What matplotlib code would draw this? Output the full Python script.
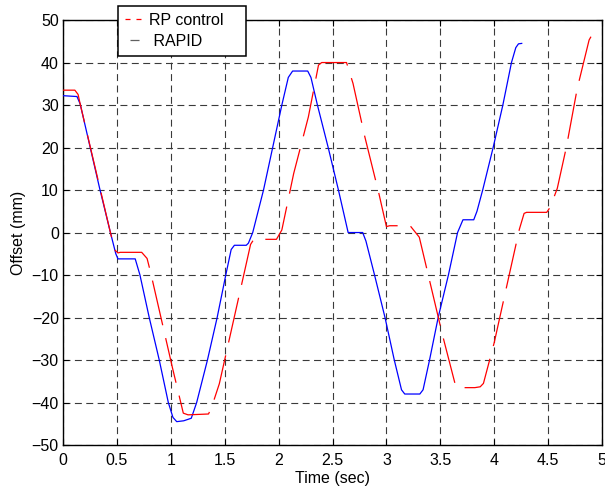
import matplotlib
matplotlib.use("Agg")
import matplotlib.pyplot as plt
from matplotlib.lines import Line2D

plt.rcParams['font.family'] = ['Liberation Sans', 'DejaVu Sans']
plt.rcParams['lines.scale_dashes'] = False

# RAPID (blue, solid)
rapid_t = [0, 0.13, 0.16, 0.34, 0.44, 0.49, 0.51, 0.67, 0.714, 0.80, 0.893, 0.977,
           1.02, 1.055, 1.12, 1.19, 1.24, 1.34, 1.43, 1.51, 1.56, 1.59, 1.70, 1.72,
           1.76, 1.86, 1.945, 2.03, 2.09, 2.13, 2.27, 2.30, 2.36, 2.46, 2.555, 2.645,
           2.78, 2.81, 2.89, 2.987, 3.073, 3.14, 3.17, 3.31, 3.34, 3.40, 3.48, 3.575,
           3.66, 3.71, 3.81, 3.84, 3.893, 3.99, 4.08, 4.16, 4.20, 4.225, 4.255]
rapid_y = [32.2, 32.0, 30.2, 10.4, 0, -5, -6.2, -6.2, -10, -20, -30, -40,
           -43.5, -44.5, -44.3, -43.7, -40, -30, -20, -10, -4, -3, -3, -2.5,
           0, 10, 20, 30, 36.5, 38, 38, 36.5, 30, 20, 10, 0,
           0, -2, -10, -20, -30, -37, -38, -38, -37, -30, -20, -10,
           0, 3, 3, 5, 10, 20, 30, 40, 43.5, 44.4, 44.5]

# RP control (red, dashed)
rp_t = [0, 0.11, 0.14, 0.16, 0.44, 0.48, 0.51, 0.53, 0.73, 0.78, 0.813, 1.017,
        1.116, 1.16, 1.35, 1.38, 1.45, 1.688, 1.74, 1.77, 1.98, 2.03, 2.14, 2.276,
        2.37, 2.40, 2.63, 2.69, 2.80, 2.93, 3.0, 3.03, 3.22, 3.305, 3.52, 3.645,
        3.68, 3.82, 3.87, 3.90, 4.0, 4.116, 4.233, 4.277, 4.30, 4.487, 4.52, 4.585,
        4.67, 4.77, 4.88, 4.90, 4.95]
rp_y = [33.5, 33.5, 32.5, 30.2, 0, -4.1, -4.8, -4.66, -4.66, -6.1, -9.4, -32,
        -42.5, -42.9, -42.7, -41, -35.6, -8.7, -2.8, -1.6, -1.6, 0.6, 13.9, 27.2,
        39.4, 40, 40, 35.1, 22.5, 9.2, 1.4, 1.6, 1.6, -1.1, -24.1, -36.4,
        -36.5, -36.5, -36.3, -35.5, -25.9, -12.6, 0.75, 4.5, 4.75, 4.75, 6.0, 10.4,
        20.2, 33.9, 45.3, 46.2, 46.2]

xticks = [0, 0.5, 1, 1.5, 2, 2.5, 3, 3.5, 4, 4.5, 5]
xticklabels = ['0', '0.5', '1', '1.5', '2', '2.5', '3', '3.5', '4', '4.5', '5']
yticks = list(range(-50, 51, 10))

fig = plt.figure(figsize=(6.05, 4.9), dpi=100)
ax = fig.add_axes([0.1041, 0.0918, 0.891, 0.8673])

ax.plot(rapid_t, rapid_y, color='#0000ff', lw=0.9, zorder=3)
ax.plot(rp_t, rp_y, color='#ff0000', lw=0.9, linestyle=(0, (33, 9.5)), zorder=4)

ax.set_xlim(0, 5)
ax.set_ylim(-50, 50)
ax.set_xticks(xticks)
ax.set_xticklabels(xticklabels)
ax.set_yticks(yticks)
ax.tick_params(direction='in', top=True, right=True, length=4, width=0.8,
               labelsize=11.5, colors='black')
ax.tick_params(axis='x', pad=6)
ax.tick_params(axis='y', pad=3)
ax.grid(True, color='#3a3a3a', linestyle=(0, (5, 3.2)), linewidth=0.8)
for s in ax.spines.values():
    s.set_linewidth(1.0)

ax.set_xlabel('Time (sec)', fontsize=11.5, labelpad=2)
ax.set_ylabel('Offset (mm)', fontsize=11.5, labelpad=4)

handles = [Line2D([], [], color='#ff0000', lw=0.9, linestyle=(0, (3.6, 4.3))),
           Line2D([], [], color='#606060', lw=0.9, linestyle=(10.1, (6.5, 7.2)))]
leg = ax.legend(handles, ['RP control', ' RAPID'], loc='upper left',
                bbox_to_anchor=(0.102, 0.92, 0.238, 0.113), mode='expand',
                borderaxespad=0, borderpad=0.42, labelspacing=0.38,
                handlelength=1.2, handletextpad=0.3, fontsize=11.5,
                fancybox=False, framealpha=1, edgecolor='black')
leg.get_frame().set_linewidth(1.1)
leg.set_zorder(10)

fig.savefig('out.png', dpi=100)
